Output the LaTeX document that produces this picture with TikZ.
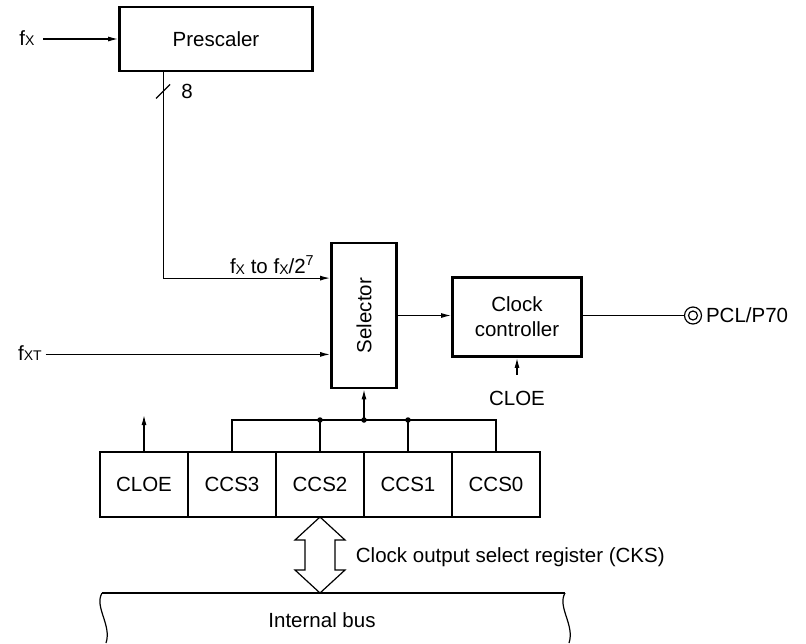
\documentclass[tikz,border=0pt]{standalone}
\usepackage{fontspec}
\setmainfont{Liberation Sans}
\usetikzlibrary{arrows.meta, positioning}
\newcommand{\fsub}[1]{f\raisebox{-0.8pt}{\fontsize{14}{14}\selectfont #1}}

\begin{document}
\begin{tikzpicture}[x=1pt, y=-1pt, font=\fontsize{20.5}{25}\selectfont,
  line width=1.2pt,
  block/.style={draw, line width=2.8pt, inner sep=0pt, align=center},
  cell/.style={draw, line width=1.2pt, outer sep=0pt, inner sep=0pt,
    minimum width=88, minimum height=65},
  sig/.style={-{Latex[length=10pt,width=5pt]}},
  jdot/.style={circle, fill, inner sep=0pt, minimum size=5.5pt}]
  \useasboundingbox (0,0) rectangle (806,643);

  \node[block, minimum width=193, minimum height=64] (pre) at (216,39) {Prescaler};
  \node (fx) at (27,38) {\fsub{X}};
  \draw[sig] ([xshift=5]fx.east |- pre.west) -- (pre.west);

  \node[block, minimum width=65, minimum height=145] (sel) at (364,315.5) {};
  \node[rotate=90] (seltext) at (sel) {Selector};
  \coordinate (selA) at ([yshift=-36.5]sel.north west);
  \coordinate (selB) at ([yshift=35]sel.south west);

  \coordinate (tap) at ([xshift=45]pre.south west);
  \draw[sig] (tap) |- (selA);
  \draw ([shift={(-7,26)}]tap) -- ++(14,-14);
  \node at ([shift={(24,19)}]tap) {8};
  \node[anchor=south east] at ([xshift=-12]selA) {\fsub{X} to \fsub{X}/2\textsuperscript{7}};

  \node (fxt) at (30,353) {\fsub{XT}};
  \draw[sig] (fxt.east |- selB) -- (selB);

  \node[block, minimum width=129, minimum height=79] (clk) at (517,317) {Clock\\controller};
  \draw[sig] (sel.east) -- (sel.east -| clk.west);
  \node[circle, draw, minimum size=17, inner sep=0pt] (pin) at (693,315.5) {};
  \draw (pin) circle (4.5);
  \draw (clk.east |- sel.east) -- (pin.west);
  \node[right=0pt of pin] (pcl) {PCL/P70};
  \node (cloeclk) at (517,398) {CLOE};
  \draw[sig] ([yshift=12]cloeclk.north) -- (clk.south);

  \node[cell] (cloe) at (144,484.5) {CLOE};
  \node[cell, right=0pt of cloe] (ccs3) {CCS3};
  \node[cell, right=0pt of ccs3] (ccs2) {CCS2};
  \node[cell, right=0pt of ccs2] (ccs1) {CCS1};
  \node[cell, right=0pt of ccs1] (ccs0) {CCS0};
  \draw[line width=2.8pt] (cloe.north west) rectangle (ccs0.south east);

  \draw[sig] (cloe.north) -- ++(0,-37);
  \coordinate (selin) at ([yshift=32]ccs2.north east);
  \draw (ccs3.north) |- (selin) -| (ccs0.north);
  \draw (ccs2.north) -- (ccs2.north |- selin);
  \draw (ccs1.north) -- (ccs1.north |- selin);
  \node[jdot] at (ccs2.north |- selin) {};
  \node[jdot] at (selin) {};
  \node[jdot] at (ccs1.north |- selin) {};
  \draw[sig] (selin) -- (selin |- sel.south);

  \coordinate (busl) at (102,593);
  \coordinate (busr) at (565,593);
  \draw (ccs2.south) -- ++(25,23) -- ++(-10,0) -- ++(0,30) -- ++(10,0)
    -- (ccs2.south |- busl) -- ++(-25,-23) -- ++(10,0) -- ++(0,-30) -- ++(-10,0) -- cycle;
  \node[anchor=west] (cks) at (352,557) {Clock output select register (CKS)};

  \draw (busl) -- (busr);
  \draw (busl) .. controls (94,607) and (112,625) .. (106,643);
  \draw (busr) .. controls (557,607) and (575,625) .. (569,643);
  \node (bus) at (322,620) {Internal bus};
\end{tikzpicture}
\end{document}
